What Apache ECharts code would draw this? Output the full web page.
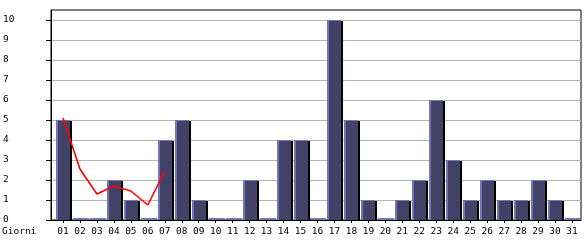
<!DOCTYPE html>
<html><head><meta charset="utf-8">
<script src="https://cdn.jsdelivr.net/npm/echarts@6/dist/echarts.min.js"></script>
<style>html,body{margin:0;padding:0;background:#fff}#c{width:585px;height:240px}</style>
</head><body><div id="c"></div>
<script>
const days = ['01','02','03','04','05','06','07','08','09','10','11','12','13','14','15','16','17','18','19','20','21','22','23','24','25','26','27','28','29','30','31'];
const visits = [5,0,0,2,1,0,4,5,1,0,0,2,0,4,4,0,10,5,1,0,1,2,6,3,1,2,1,1,2,1,0];
const trend = [5.1,2.55,1.3,1.7,1.45,0.75,2.45];
const yTicks = [0,1,2,3,4,5,6,7,8,9,10];
const xName = 'Giorni';

const FONT = 'DejaVu Sans Mono';
const FS = 9.5;
const xIdx = days.map((d, i) => i + 1);
const chart = echarts.init(document.getElementById('c'), null, {renderer: 'canvas'});
chart.setOption({
  animation: false,
  backgroundColor: '#fff',
  grid: {left: 50, right: 4, top: 10, bottom: 20, show: true, borderColor: '#000', borderWidth: 1, containLabel: false},
  xAxis: {
    type: 'value', min: 1 - 12 / 17, max: 31 + 9 / 17,
    axisLine: {show: true, lineStyle: {color: '#000', width: 1}},
    axisTick: {show: true, length: 3, lineStyle: {color: '#000'}, customValues: xIdx},
    axisLabel: {customValues: xIdx, formatter: v => days[v - 1], color: '#000', fontFamily: FONT, fontSize: FS, margin: 7},
    splitLine: {show: false}
  },
  yAxis: {
    type: 'value', min: 0, max: 10.5, interval: 1,
    axisLine: {show: true, lineStyle: {color: '#000', width: 1}},
    axisTick: {show: true, length: 5, lineStyle: {color: '#000'}, customValues: yTicks},
    axisLabel: {customValues: yTicks, align: 'left', margin: 48, color: '#000', fontFamily: FONT, fontSize: FS},
    splitLine: {show: true, lineStyle: {color: '#b4b4b4', width: 1}}
  },
  graphic: [{type: 'text', left: 2, top: 226.5, style: {text: xName, fill: '#000', font: FS + 'px "DejaVu Sans Mono"'}}],
  series: [
    {
      type: 'custom',
      data: visits.map((v, i) => [i + 1, v]),
      encode: {x: 0, y: 1},
      renderItem: function (params, api) {
        const i = api.value(0), v = api.value(1);
        const top = api.coord([i, v]), base = api.coord([i, 0]);
        const c = Math.round(base[0]);
        const y0 = Math.round(base[1]), y1 = Math.round(top[1]);
        const ch = [];
        if (v > 0) {
          ch.push({type: 'rect', shape: {x: c + 7, y: y1 + 1, width: 2, height: y0 - y1 - 1}, style: {fill: '#000'}});
          ch.push({type: 'rect', shape: {x: c - 7, y: y1, width: 14, height: y0 - y1}, style: {fill: '#7474b4'}});
          ch.push({type: 'rect', shape: {x: c - 5, y: y1 + 1, width: 12, height: y0 - y1 - 1}, style: {fill: '#424266'}});
        } else {
          ch.push({type: 'rect', shape: {x: c - 7, y: y0 - 2, width: 16, height: 2}, style: {fill: '#7474b4'}});
        }
        return {type: 'group', children: ch};
      },
      z: 2
    },
    {
      type: 'line',
      data: trend.map((v, i) => [i + 1, v]),
      symbol: 'none',
      lineStyle: {color: '#ff0000', width: 1.6},
      z: 3
    }
  ]
});
</script></body></html>
